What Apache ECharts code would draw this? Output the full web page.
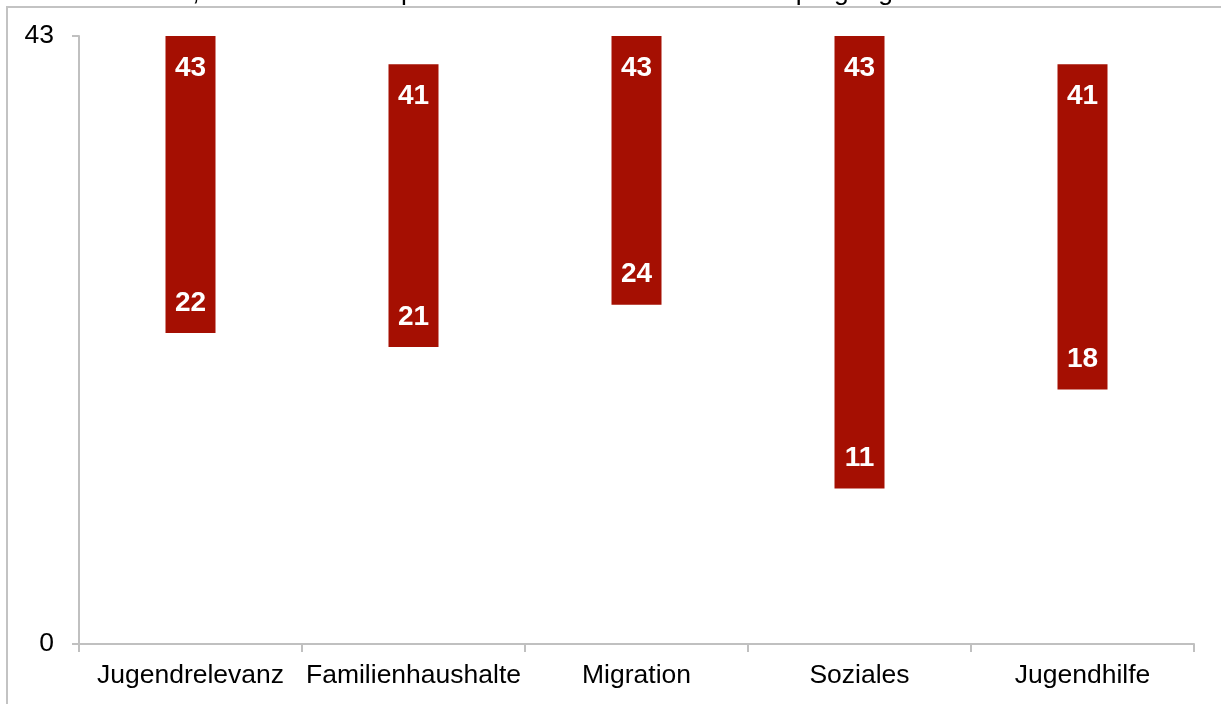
<!DOCTYPE html>
<html>
<head>
<meta charset="utf-8">
<script src="https://cdn.jsdelivr.net/npm/echarts@6/dist/echarts.min.js"></script>
<style>
  html, body { margin: 0; padding: 0; background: #fff; }
  #chart { width: 1221px; height: 704px; }
</style>
</head>
<body>
<div id="chart"></div>
<script>
// Range of ranks per indicator group (lowest and highest value)
const categories = ['Jugendrelevanz', 'Familienhaushalte', 'Migration', 'Soziales', 'Jugendhilfe'];
const lowValues = [22, 21, 24, 11, 18];
const highValues = [43, 41, 43, 43, 41];
const yTicks = [0, 43];

const FONT = '"Liberation Sans", Arial, sans-serif';
const BAR_COLOR = '#a50f02';

const chart = echarts.init(document.getElementById('chart'), null, { renderer: 'canvas' });

const rangeData = categories.map((c, i) => [i, lowValues[i], highValues[i]]);

function renderRange(params, api) {
  const idx = api.value(0);
  const lo = api.value(1);
  const hi = api.value(2);
  const top = api.coord([idx, hi]);
  const bottom = api.coord([idx, lo]);
  const barW = 50;
  const x = top[0] - barW / 2;
  const labelStyle = {
    fill: '#ffffff',
    font: 'bold 28px ' + FONT,
    align: 'center',
    verticalAlign: 'middle'
  };
  return {
    type: 'group',
    children: [
      {
        type: 'rect',
        shape: { x: x, y: top[1], width: barW, height: bottom[1] - top[1] },
        style: { fill: BAR_COLOR }
      },
      {
        type: 'text',
        x: top[0], y: top[1] + 32,
        style: Object.assign({ text: String(hi) }, labelStyle)
      },
      {
        type: 'text',
        x: bottom[0], y: bottom[1] - 30,
        style: Object.assign({ text: String(lo) }, labelStyle)
      }
    ]
  };
}

chart.setOption({
  animation: false,
  backgroundColor: '#ffffff',
  grid: { left: 79, right: 27, top: 36, bottom: 60, containLabel: false },
  graphic: [
    {
      type: 'rect',
      shape: { x: 7, y: 7, width: 1230, height: 720 },
      style: { fill: 'none', stroke: '#c3c3c3', lineWidth: 2 },
      z: -1
    },
    {
      type: 'text',
      x: 893, y: 6,
      style: {
        text: 'Rangplätze von den niedrigsten bis zu den höchsten, hohe Werte entsprechen einer hohen Indikatorausprägung',
        font: '26.5px ' + FONT,
        fill: '#000',
        align: 'right',
        verticalAlign: 'bottom'
      }
    }
  ],
  xAxis: {
    type: 'category',
    data: categories,
    boundaryGap: true,
    axisLine: { show: true, lineStyle: { color: '#c0c0c0', width: 2 } },
    axisTick: { show: true, alignWithLabel: false, length: 8, lineStyle: { color: '#c0c0c0', width: 2 } },
    axisLabel: { interval: 0, color: '#000', fontFamily: FONT, fontSize: 26.5, margin: 18 },
    splitLine: { show: false }
  },
  yAxis: {
    type: 'value',
    min: yTicks[0],
    max: yTicks[1],
    interval: yTicks[1] - yTicks[0],
    axisLine: { show: true, lineStyle: { color: '#c0c0c0', width: 2 } },
    axisTick: { show: true, length: 7, lineStyle: { color: '#c0c0c0', width: 2 } },
    axisLabel: { color: '#000', fontFamily: FONT, fontSize: 26.5, margin: 25 },
    splitLine: { show: false }
  },
  series: [
    {
      type: 'custom',
      renderItem: renderRange,
      data: rangeData,
      encode: { x: 0, y: [1, 2] },
      clip: false
    }
  ]
});
</script>
</body>
</html>
